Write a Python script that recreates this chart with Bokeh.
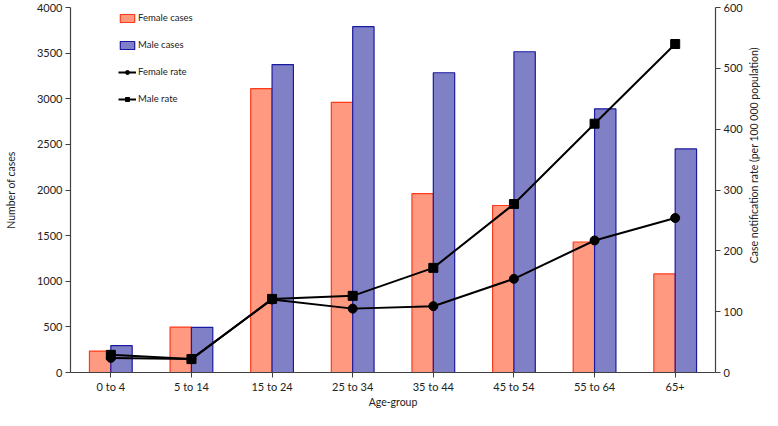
import math
from bokeh.plotting import figure
from bokeh.layouts import row
from bokeh.models import FactorRange, Range1d, LinearAxis, Legend, LegendItem, SingleIntervalTicker, ColumnDataSource
from bokeh.core.properties import value
from bokeh.transform import dodge
from bokeh.embed import file_html
from bokeh.resources import INLINE

categories = ["0 to 4", "5 to 14", "15 to 24", "25 to 34", "35 to 44", "45 to 54", "55 to 64", "65+"]
female_cases = [235, 498, 3110, 2960, 1960, 1830, 1430, 1080]
male_cases = [295, 495, 3375, 3790, 3285, 3515, 2890, 2450]
female_rate = [24, 22, 120, 105, 109, 154, 217, 254]
male_rate = [29, 22, 121, 126, 172, 277, 409, 540]
right_label = "Case notification rate (per 100 000 population)"

src = ColumnDataSource(dict(cat=categories, fc=female_cases, mc=male_cases, fr=female_rate, mr=male_rate))

FONT = "Lato"
W, H = 745, 410
p = figure(width=W, height=H, x_range=FactorRange(*categories, range_padding=0),
           y_range=Range1d(0, 4000), output_backend="svg", toolbar_location=None,
           min_border_left=70, min_border_right=20, min_border_top=7, min_border_bottom=33)
p.extra_y_ranges = {"rate": Range1d(0, 600)}
p.outline_line_color = None
p.xgrid.grid_line_color = None
p.ygrid.grid_line_color = None

fb = p.vbar(x=dodge("cat", -0.1325, range=p.x_range), top="fc", width=0.265, source=src,
            fill_color="#FF9A80", line_color="#FF3A1A", line_width=1.2)
mb = p.vbar(x=dodge("cat", 0.1325, range=p.x_range), top="mc", width=0.265, source=src,
            fill_color="#8080C6", line_color="#1A1AA0", line_width=1.2)

fl = p.line("cat", "fr", source=src, y_range_name="rate", line_color="black", line_width=2)
fm = p.scatter("cat", "fr", source=src, y_range_name="rate", marker="circle", size=9,
               fill_color="black", line_color="black")
ml = p.line("cat", "mr", source=src, y_range_name="rate", line_color="black", line_width=2)
mm = p.scatter("cat", "mr", source=src, y_range_name="rate", marker="square", size=9,
               fill_color="black", line_color="black")

ra = LinearAxis(y_range_name="rate", ticker=SingleIntervalTicker(interval=100))
p.add_layout(ra, "right")

p.yaxis[0].ticker = SingleIntervalTicker(interval=500)
p.yaxis[0].axis_label = "Number of cases"
p.xaxis.axis_label = "Age-group"

for ax in [p.xaxis[0], p.yaxis[0], ra]:
    ax.axis_line_color = "#404040"
    ax.axis_line_width = 1.2
    ax.major_tick_line_color = "#404040"
    ax.major_tick_out = 5
    ax.major_tick_in = 0
    ax.minor_tick_line_color = None
    ax.major_label_text_font = FONT
    ax.major_label_text_font_size = "11px"
    ax.major_label_text_color = "#222222"
    ax.axis_label_text_font = FONT
    ax.axis_label_text_font_size = "10.5px"
    ax.axis_label_text_font_style = "normal"
    ax.axis_label_text_color = "#222222"
    ax.major_label_standoff = 3
    ax.axis_label_standoff = 3
p.xaxis[0].axis_label_standoff = 0
p.xaxis[0].major_label_standoff = 2
p.yaxis[0].axis_label_standoff = 17

legend = Legend(items=[
    LegendItem(label="Female cases", renderers=[fb]),
    LegendItem(label="Male cases", renderers=[mb]),
    LegendItem(label="Female rate", renderers=[fl, fm]),
    LegendItem(label="Male rate", renderers=[ml, mm]),
], location=(48, 268))
legend.border_line_alpha = 0
legend.background_fill_alpha = 0
legend.label_text_font = FONT
legend.label_text_font_size = "9.5px"
legend.label_text_color = "#222222"
legend.glyph_width = 18
legend.glyph_height = 10
legend.label_height = 10
legend.spacing = 16
legend.padding = 0
legend.margin = 0
legend.label_standoff = 2
p.add_layout(legend)

# side panel holding the right axis title (reads bottom-to-top)
p2 = figure(width=762 - W, height=H, x_range=Range1d(0, 1), y_range=Range1d(0, H),
            output_backend="svg", toolbar_location=None,
            min_border_left=0, min_border_right=0, min_border_top=0, min_border_bottom=0)
p2.axis.visible = False
p2.grid.visible = False
p2.outline_line_color = None
p2.text(x=[0.5], y=[H - 166], text=[right_label], angle=math.pi / 2,
        text_align="center", text_baseline="middle", text_font=value(FONT),
        text_font_size="10.5px", text_color="#222222")

layout = row(p, p2, spacing=0)
open("out.html", "w").write(file_html(layout, INLINE))
